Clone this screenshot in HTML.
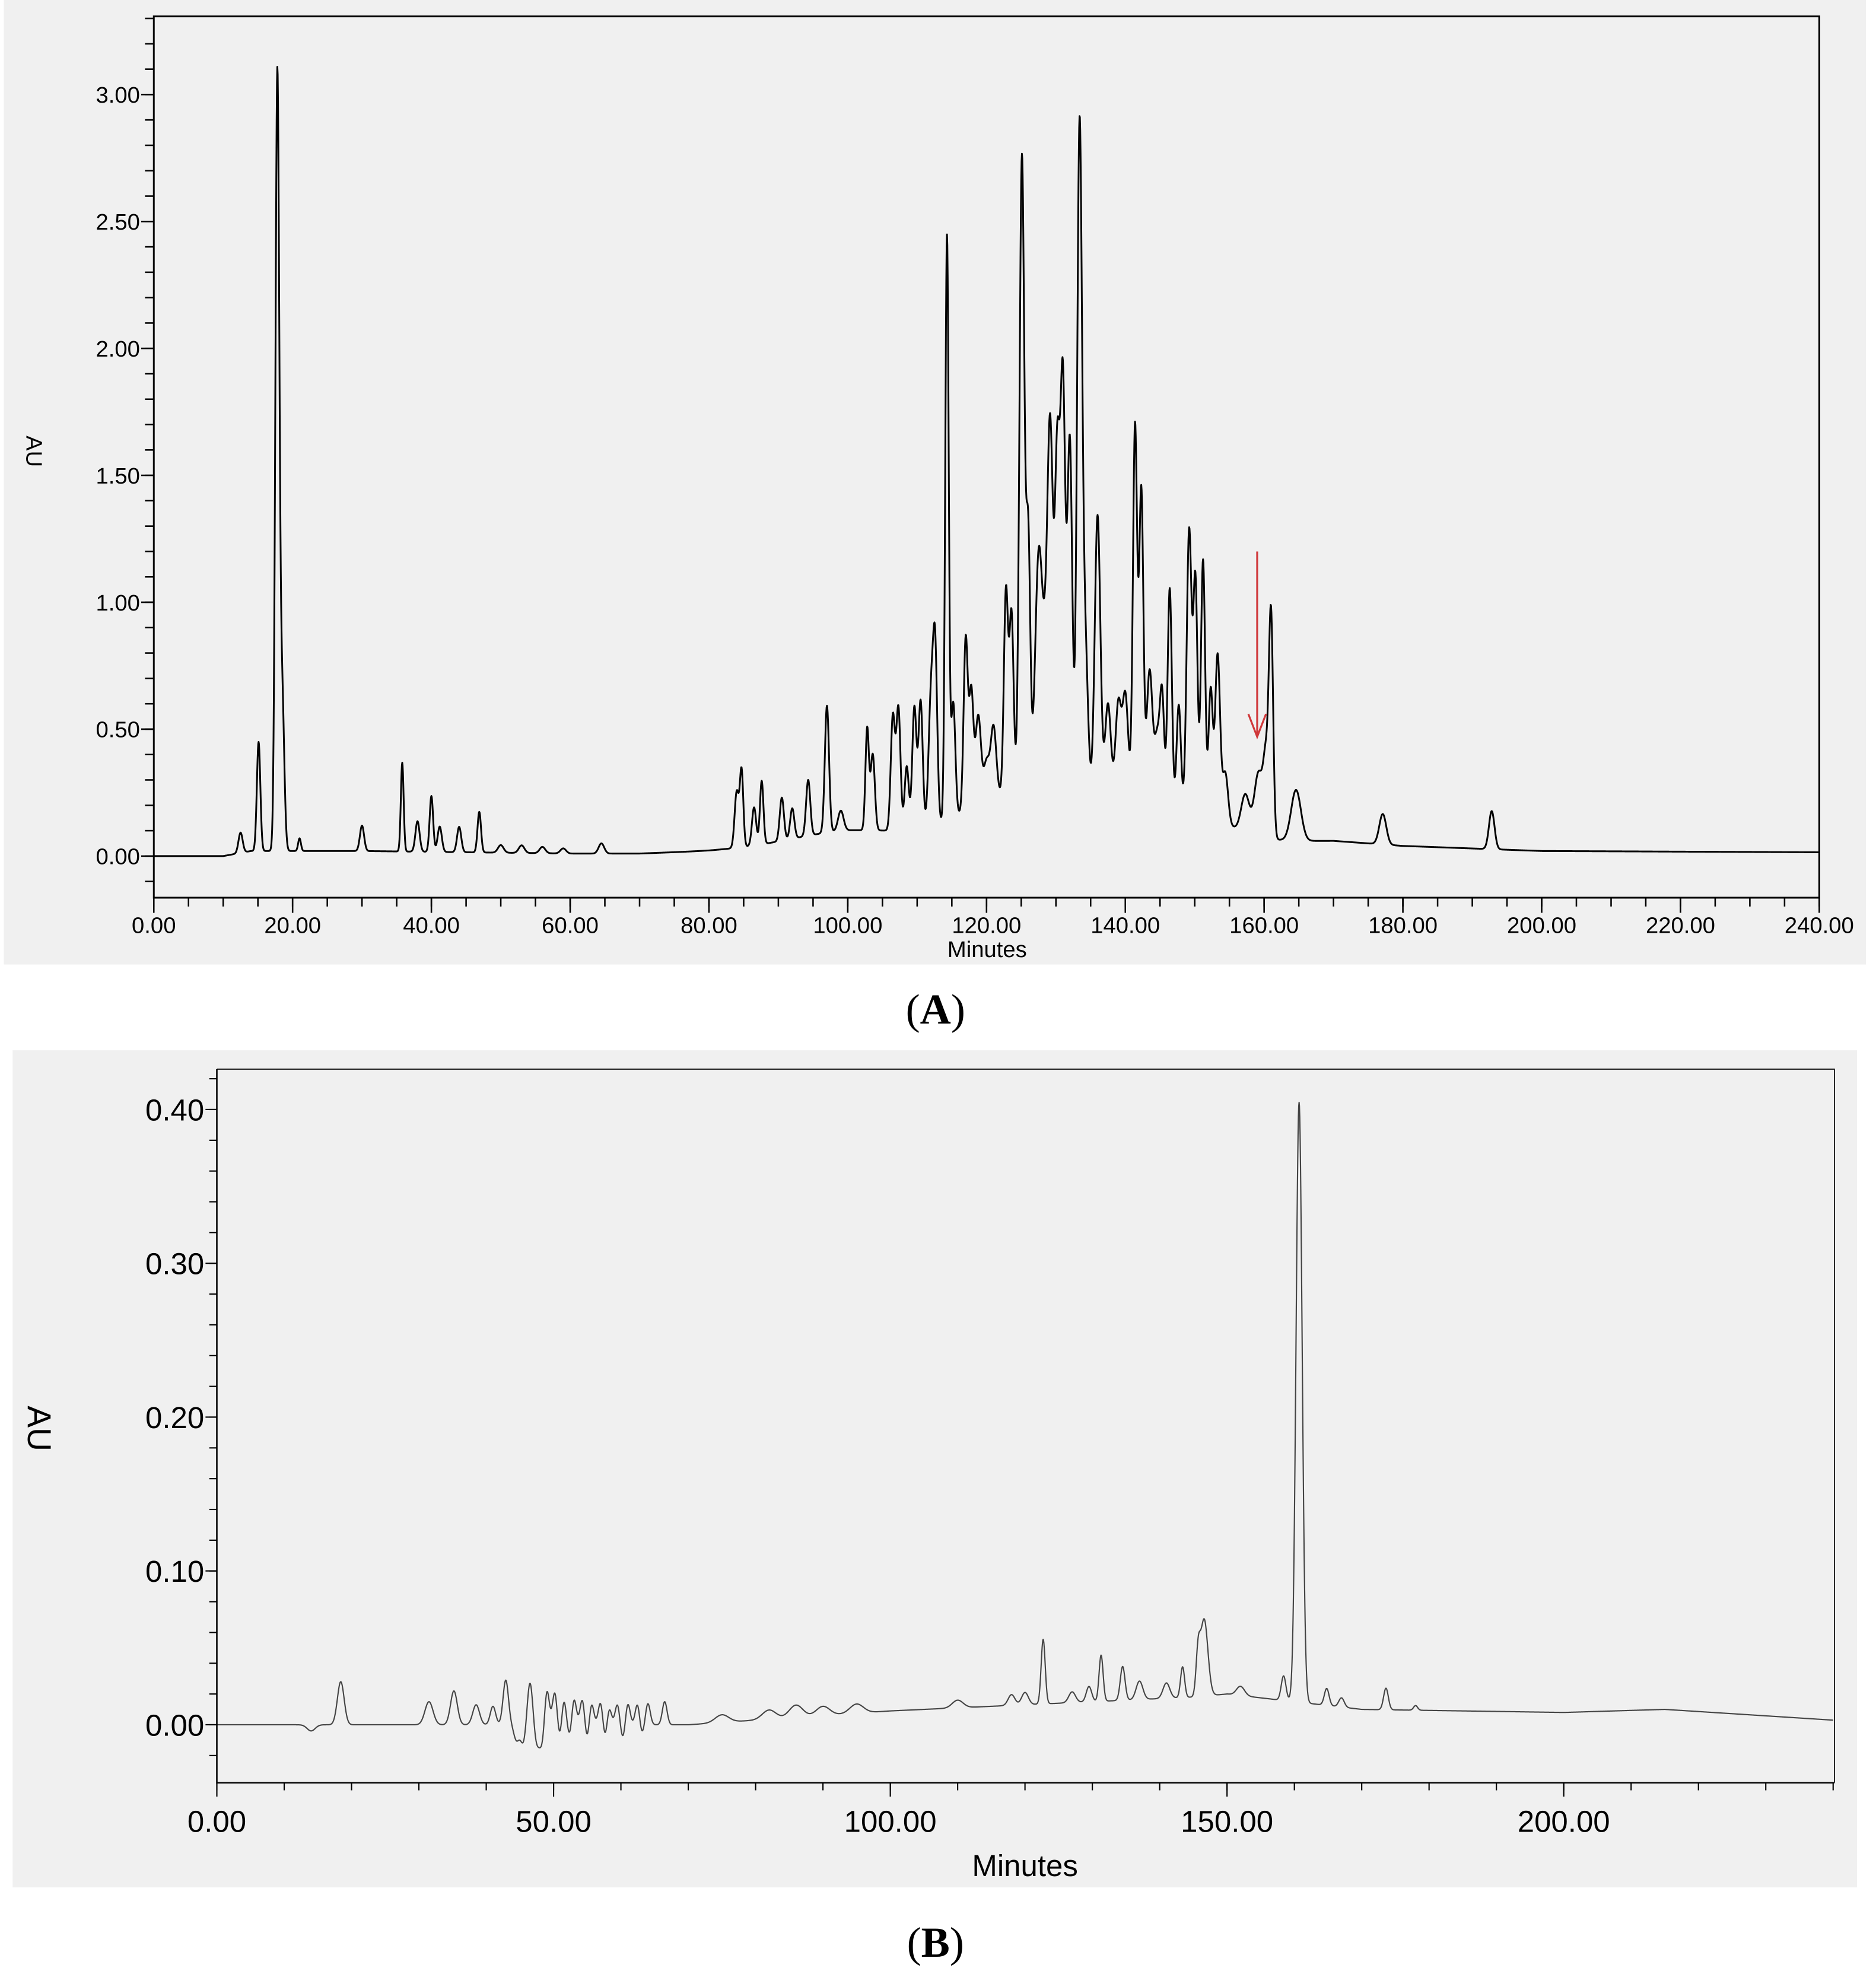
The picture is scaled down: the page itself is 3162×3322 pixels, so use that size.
<!DOCTYPE html>
<html><head><meta charset="utf-8">
<style>
html,body{margin:0;padding:0;background:#fff;}
svg{display:block;}
text{font-family:"Liberation Sans",sans-serif;fill:#000;}
</style></head>
<body>
<svg id="fig" width="3162" height="3322" viewBox="0 0 1488 1563.3" xmlns="http://www.w3.org/2000/svg">
<rect x="3" y="0" width="1477" height="765" fill="#f0f0f0"/>
<rect x="10" y="833" width="1463" height="664" fill="#f0f0f0"/>
<g id="chartA"></g>
<g id="chartB"></g>
<text x="742" y="812" text-anchor="middle" style="font-family:'Liberation Serif',serif" font-size="34">(<tspan font-weight="bold">A</tspan>)</text>
<text x="742" y="1552" text-anchor="middle" style="font-family:'Liberation Serif',serif" font-size="34">(<tspan font-weight="bold">B</tspan>)</text>
</svg>
<script>
// ---- Chart A data ----
const peaksA_t = [12.5,15.1,17.8,18.5,21,30,35.8,38,40,41.2,44,46.9,50,53,56,59,64.5,
 84,84.7,86.5,87.6,90.5,92,94.3,97,99,102.8,103.6,106.5,107.3,108.5,109.6,110.5,112,112.6,114.3,115.2,117,117.8,118.8,120,121,122.8,123.6,125.1,126,127.5,128.5,129.2,130.2,131,132,133.4,134.2,136,137.5,139,140,142.3,141.4,143.5,144.6,145.3,146.4,147.7,149.2,150.1,151.2,152.3,153.3,154.4,157.3,159.2,160.3,161,164.6,177.1,192.8,125,140,150,100];
const peaksA_h = [0.08,0.43,3.05,0.6,0.05,0.1,0.35,0.12,0.22,0.1,0.1,0.16,0.03,0.03,0.025,0.02,0.04,
 0.22,0.3,0.15,0.25,0.17,0.12,0.22,0.5,0.08,0.4,0.3,0.45,0.48,0.25,0.48,0.5,0.5,0.65,2.3,0.45,0.68,0.45,0.35,0.15,0.28,0.8,0.7,2.5,1.0,0.9,0.45,1.3,1.3,1.6,1.4,2.6,0.6,1.1,0.35,0.35,0.38,1.2,1.45,0.5,0.25,0.4,0.85,0.4,1.1,0.9,1.0,0.5,0.65,0.2,0.15,0.25,0.3,0.85,0.2,0.12,0.15,0.2,0.15,0.1,0.05];
const peaksA_w = [0.3,0.25,0.28,0.3,0.2,0.3,0.2,0.3,0.25,0.3,0.3,0.25,0.4,0.4,0.4,0.4,0.4,
 0.3,0.25,0.3,0.25,0.3,0.3,0.3,0.3,0.4,0.25,0.3,0.3,0.3,0.3,0.3,0.3,0.35,0.3,0.25,0.3,0.3,0.3,0.4,0.4,0.4,0.3,0.3,0.35,0.3,0.5,0.5,0.4,0.35,0.35,0.35,0.35,0.4,0.4,0.4,0.4,0.4,0.3,0.3,0.4,0.4,0.3,0.3,0.3,0.35,0.3,0.3,0.3,0.35,0.4,0.6,0.6,0.4,0.3,0.7,0.5,0.4,8,5,5,8];
const baseA_t = [0,10,14,30,60,70,80,100,170,180,200,240];
const baseA_v = [0,0,0.02,0.02,0.01,0.01,0.02,0.05,0.06,0.04,0.02,0.015];
const ticksA_y = [0,0.5,1,1.5,2,2.5,3];
const ticksA_ylab = ["0.00","0.50","1.00","1.50","2.00","2.50","3.00"];
const ticksA_x = [0,20,40,60,80,100,120,140,160,180,200,220,240];
const ticksA_xlab = ["0.00","20.00","40.00","60.00","80.00","100.00","120.00","140.00","160.00","180.00","200.00","220.00","240.00"];

// ---- Chart B data ----
const peaksB_t = [14,18.4,31.5,35.2,38.5,41,42.9,44.5,46.5,47.5,49,50.2,51.5,53,54.3,55.6,57,58.2,59.5,61,62.5,64,66.5,45.5,48.3,51,52.5,55,57.7,60.3,63,
 75,82,86,90,95,110,118,120,122.7,127,129.5,131.3,134.5,137,141,143.4,145.7,146.6,152,158.4,160.7,164.8,167,173.6,178];
const peaksB_h = [-0.004,0.028,0.015,0.022,0.013,0.012,0.029,-0.01,0.028,-0.012,0.024,0.022,0.02,0.02,0.018,0.016,0.016,0.014,0.014,0.015,0.016,0.014,0.015,-0.012,-0.013,-0.012,-0.01,-0.012,-0.012,-0.01,-0.008,
 0.005,0.006,0.008,0.006,0.006,0.005,0.007,0.008,0.042,0.007,0.01,0.03,0.022,0.012,0.01,0.02,0.025,0.05,0.006,0.016,0.39,0.011,0.006,0.014,0.003];
const peaksB_w = [0.6,0.5,0.6,0.5,0.5,0.4,0.4,0.4,0.4,0.4,0.35,0.35,0.35,0.35,0.35,0.35,0.35,0.35,0.35,0.35,0.35,0.35,0.35,0.4,0.4,0.4,0.4,0.4,0.4,0.4,0.4,
 1,1,1,1,1,0.8,0.5,0.5,0.3,0.5,0.4,0.3,0.35,0.5,0.5,0.3,0.3,0.55,0.6,0.35,0.45,0.35,0.4,0.35,0.3];
const baseB_t = [0,30,70,100,120,145,150,170,200,215,240];
const baseB_v = [0,0,0,0.009,0.013,0.018,0.02,0.01,0.008,0.01,0.003];
const ticksB_y = [0,0.1,0.2,0.3,0.4];
const ticksB_ylab = ["0.00","0.10","0.20","0.30","0.40"];
const ticksB_x = [0,50,100,150,200];
const ticksB_xlab = ["0.00","50.00","100.00","150.00","200.00"];

const NS = "http://www.w3.org/2000/svg";
function mk(tag, attrs, parent){const e=document.createElementNS(NS,tag);for(const k in attrs)e.setAttribute(k,attrs[k]);parent.appendChild(e);return e;}
function interp(ts, vs, t){for(let i=1;i<ts.length;i++){if(t<=ts[i]){const f=(t-ts[i-1])/(ts[i]-ts[i-1]);return vs[i-1]+f*(vs[i]-vs[i-1]);}}return vs[vs.length-1];}
function signal(t, pt, ph, pw, bt, bv){let v=interp(bt,bv,t);for(let i=0;i<pt.length;i++){const d=(t-pt[i])/pw[i];if(Math.abs(d)<6)v+=ph[i]*Math.exp(-0.5*d*d);}return v;}

function drawChart(g, cfg){
  const X=t=>cfg.x0+(t-cfg.tmin)*(cfg.x1-cfg.x0)/(cfg.tmax-cfg.tmin);
  const Y=v=>cfg.y0-(v)*(cfg.y0-cfg.yTop)/cfg.vTop;
  let d="";
  for(let t=cfg.tmin;t<=cfg.tmax+1e-9;t+=0.05){const v=signal(t,cfg.pt,cfg.ph,cfg.pw,cfg.bt,cfg.bv);d+=(d?"L":"M")+X(t).toFixed(2)+","+Y(v).toFixed(2);}
  const p=mk("path",{d:d,fill:"none",stroke:cfg.lineColor,"stroke-width":cfg.lineW,"stroke-linejoin":"round"},g);
  
  
  const ax=mk("path",{d:cfg.box?`M${cfg.x0},${cfg.axBottom}V${cfg.axTop}H${cfg.axRight}V${cfg.axBottom}Z`:`M${cfg.x0},${cfg.axTop}V${cfg.axBottom}H${cfg.axRight}`,fill:"none",stroke:"#000","stroke-width":cfg.axW},g);
  
  
  if(!cfg.box){const r=mk("path",{d:`M${cfg.x0},${cfg.axTop}H${cfg.axRight}V${cfg.axBottom}`,fill:"none",stroke:"#000","stroke-width":0.8},g);
    
    }
  for(let v=cfg.yMinorStart;v<=cfg.yMinorEnd+1e-9;v+=cfg.yMinor){const y=Y(v);if(y<cfg.axTop-1||y>cfg.axBottom+1)continue;
    const tk=mk("line",{x1:cfg.x0-cfg.tickLen,x2:cfg.x0,y1:y,y2:y,stroke:"#000","stroke-width":cfg.tickW},g);
    
    }
  cfg.ytv.forEach((v,i)=>{const y=Y(v);
    const tk=mk("line",{x1:cfg.x0-cfg.tickLen-3,x2:cfg.x0,y1:y,y2:y,stroke:"#000","stroke-width":cfg.tickW},g);
    
    
    const tx=mk("text",{x:cfg.x0-cfg.tickLen-4,y:y+cfg.fs*0.36,"text-anchor":"end","font-size":cfg.fs},g);tx.textContent=cfg.ylab[i];
    
    });
  for(let t=cfg.tmin;t<=cfg.tmax+1e-9;t+=cfg.xMinor){const x=X(t);
    const tk=mk("line",{x1:x,x2:x,y1:cfg.axBottom,y2:cfg.axBottom+cfg.tickLen,stroke:"#000","stroke-width":cfg.tickW},g);
    
    }
  cfg.xtv.forEach((t,i)=>{const x=X(t);
    const tk=mk("line",{x1:x,x2:x,y1:cfg.axBottom,y2:cfg.axBottom+cfg.tickLen+5,stroke:"#000","stroke-width":cfg.tickW},g);
    
    
    const tx=mk("text",{x:x,y:cfg.xLabY,"text-anchor":"middle","font-size":cfg.fs},g);tx.textContent=cfg.xlab[i];
    
    });
  const xt=mk("text",{x:cfg.xTitleX,y:cfg.xTitleY,"text-anchor":"middle","font-size":cfg.fs},g);xt.textContent="Minutes";
  
  
  const yt=mk("text",{x:0,y:0,"text-anchor":"middle","font-size":cfg.yfs,transform:`translate(${cfg.yTitleX},${cfg.yTitleY}) rotate(90)`},g);yt.textContent="AU";
  
  
  return {X,Y};
}

const gA=document.getElementById("chartA");
const a=drawChart(gA,{prefix:"chart-a",x0:122,x1:1443,tmin:0,tmax:240,y0:679,yTop:75,vTop:3.0,axTop:13,axBottom:712,axRight:1443,box:true,
  pt:peaksA_t,ph:peaksA_h,pw:peaksA_w,bt:baseA_t,bv:baseA_v,lineColor:"#000",lineW:1.4,axW:1.4,tickW:1.2,tickLen:7,
  yMinorStart:-0.1,yMinorEnd:3.3,yMinor:0.1,xMinor:5,ytv:ticksA_y,ylab:ticksA_ylab,xtv:ticksA_x,xlab:ticksA_xlab,fs:18,xLabY:740,
  xTitleX:783,xTitleY:759,yfs:18,yTitleX:21,yTitleY:358});
const arrow=mk("path",{d:`M${a.X(159)},${a.Y(1.2)}V${a.Y(0.47)}M${a.X(159)-7},${a.Y(0.56)}L${a.X(159)},${a.Y(0.47)}L${a.X(159)+7},${a.Y(0.56)}`,fill:"none",stroke:"#d0383a","stroke-width":1.5},gA);



const gB=document.getElementById("chartB");
drawChart(gB,{prefix:"chart-b",x0:172,x1:1454,tmin:0,tmax:240,y0:1368,yTop:880,vTop:0.4,axTop:848,axBottom:1414,axRight:1455,box:false,
  pt:peaksB_t,ph:peaksB_h,pw:peaksB_w,bt:baseB_t,bv:baseB_v,lineColor:"#444",lineW:1.0,axW:1.2,tickW:1,tickLen:6,
  yMinorStart:-0.02,yMinorEnd:0.42,yMinor:0.02,xMinor:10,ytv:ticksB_y,ylab:ticksB_ylab,xtv:ticksB_x,xlab:ticksB_xlab,fs:24,xLabY:1453,
  xTitleX:813,xTitleY:1488,yfs:26,yTitleX:22,yTitleY:1133});
</script>
</body></html>
